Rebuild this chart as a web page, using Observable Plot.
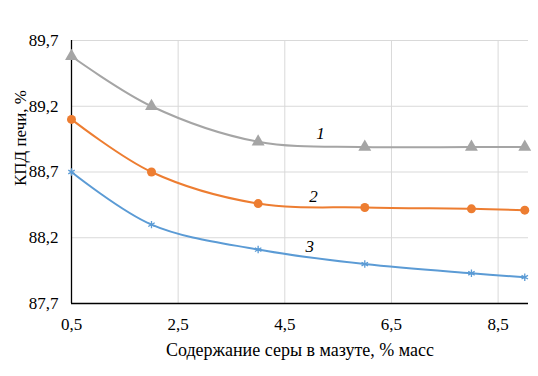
<!DOCTYPE html>
<html><head><meta charset="utf-8">
<script src="https://cdn.jsdelivr.net/npm/d3@7"></script>
<script src="https://cdn.jsdelivr.net/npm/@observablehq/plot@0.6"></script>
<style>body{margin:0;background:#fff} svg, svg text{font-family:"Liberation Serif","DejaVu Serif",serif !important}</style>
</head><body><div id="chart"></div>
<script>
const sulfur = [0.5, 2, 4, 6, 8, 9];
const kpd1 = [89.58, 89.2, 88.93, 88.89, 88.89, 88.89];
const kpd2 = [89.1, 88.7, 88.46, 88.43, 88.42, 88.41];
const kpd3 = [88.7, 88.3, 88.11, 88.0, 87.93, 87.9];
const xTicks = [0.5, 2.5, 4.5, 6.5, 8.5];
const yTicks = [87.7, 88.2, 88.7, 89.2, 89.7];
const curveNames = ["1", "2", "3"];
const curveLabelX = [5.17, 5.04, 4.97];
const curveLabelY = [88.99, 88.51, 88.13];
const xTitle = "Содержание серы в мазуте, % масс";
const yTitle = "КПД печи, %";

const FONT = "'Liberation Serif', 'DejaVu Serif', serif";
const fmt = d => d3.format(".1f")(d).replace(".", ",");
const series = [
  {vals: kpd1, color: "#A5A5A5", symbol: "triangle", r: 4.8, sw: 0},
  {vals: kpd2, color: "#ED7D31", symbol: "circle", r: 4.5, sw: 0},
  {vals: kpd3, color: "#5B9BD5", symbol: "asterisk", r: 3.5, sw: 1.3}
];
const marks = [
  Plot.ruleY(yTicks, {stroke: "#D9D9D9", strokeWidth: 1}),
  Plot.ruleX(xTicks.slice(1), {stroke: "#D9D9D9", strokeWidth: 1}),
  Plot.ruleX([0.5], {stroke: "#000", strokeWidth: 1.3}),
  Plot.ruleY([87.7], {stroke: "#000", strokeWidth: 1.3}),
];
for (const s of series) {
  const data = sulfur.map((x, i) => ({x, y: s.vals[i]}));
  marks.push(Plot.line(data, {x: "x", y: "y", stroke: s.color, strokeWidth: 2, curve: "catmull-rom"}));
  if (s.symbol === "asterisk") {
    marks.push(Plot.dot(data, {x: "x", y: "y", symbol: "asterisk", stroke: s.color, r: s.r, strokeWidth: s.sw}));
  } else {
    marks.push(Plot.dot(data, {x: "x", y: "y", symbol: s.symbol, fill: s.color, stroke: "none", r: s.r}));
  }
}
marks.push(Plot.text(curveNames, {x: (d, i) => curveLabelX[i], y: (d, i) => curveLabelY[i], text: d => d, fontStyle: "italic", fontSize: 17, fontFamily: FONT, fill: "#000"}));
marks.push(Plot.axisX(xTicks, {tickSize: 0, tickPadding: 14, tickFormat: fmt, fontSize: 17, fontFamily: FONT, label: null}));
marks.push(Plot.axisY(yTicks, {tickSize: 0, tickPadding: 13, tickFormat: fmt, fontSize: 17, fontFamily: FONT, label: null}));
marks.push(Plot.text([xTitle], {frameAnchor: "bottom", dy: 52, text: d => d, fontSize: 18, fontFamily: FONT, fill: "#000"}));
marks.push(Plot.text([yTitle], {frameAnchor: "left", textAnchor: "middle", rotate: -90, dx: -51, dy: -34, text: d => d, fontSize: 17, fontFamily: FONT, fill: "#000"}));

const chart = Plot.plot({
  width: 538, height: 376,
  marginLeft: 71, marginRight: 10, marginTop: 40, marginBottom: 73,
  x: {domain: [0.5, 9.07]},
  y: {domain: [87.7, 89.7]},
  style: {fontFamily: FONT, fontSize: "17px", color: "#000", background: "#fff"},
  marks
});
document.getElementById("chart").appendChild(chart);
</script></body></html>
